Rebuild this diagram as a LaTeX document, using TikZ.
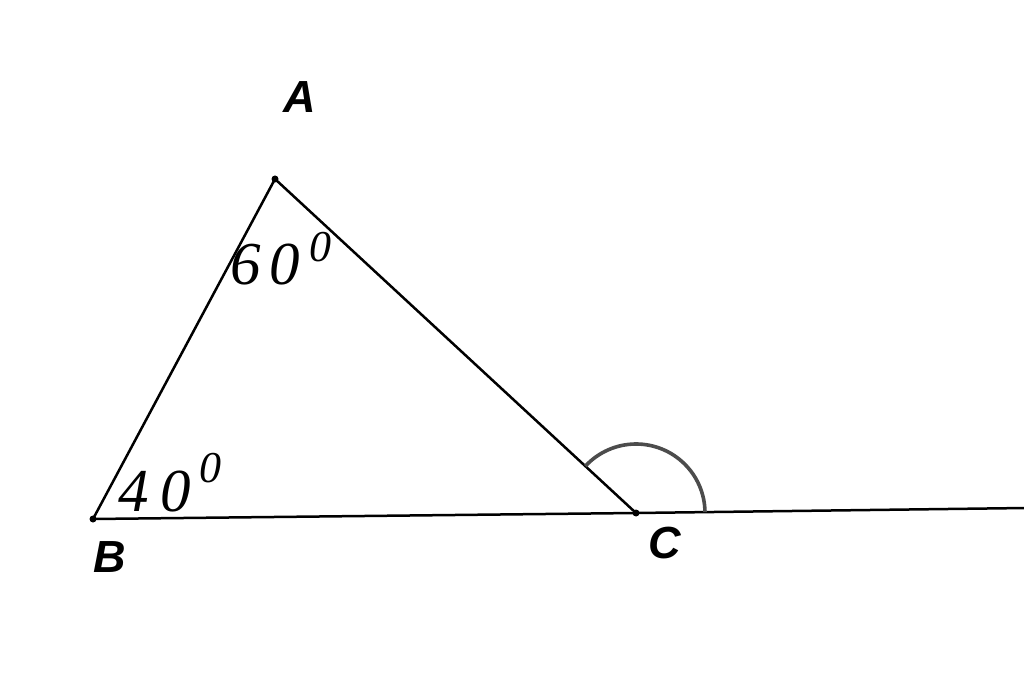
\documentclass[tikz,border=0pt]{standalone}
\usepackage{fontspec}
\setmainfont{Liberation Serif}
\setsansfont{Liberation Sans}
\begin{document}
\begin{tikzpicture}[x=1pt,y=1pt,
  seg/.style={line width=2.5pt,black},
  vdot/.style={circle,fill=black,inner sep=0pt,minimum size=7pt},
  vlabel/.style={anchor=base west,inner sep=0pt,font=\fontsize{45}{45}\selectfont\sffamily\bfseries\itshape},
  anglabel/.style={anchor=base west,inner sep=0pt,font=\fontsize{61}{61}\selectfont\itshape},
  anglearc/.style={line width=3.6pt,black!70}]
\useasboundingbox (0,0) rectangle (1024,672);
\coordinate (A) at (275,493);
\coordinate (B) at (93,153);
\coordinate (C) at (636,159);
\coordinate (E) at (1026,164);
\draw[seg] (B) -- (A) -- (C);
\draw[seg] (B) -- (C) -- (E);
\draw[anglearc] ([shift={(0.7:69)}]C) arc[start angle=0.7,end angle=137.2,radius=69];
\node[vdot] (dA) at (A) {};
\node[vdot] (dB) at (B) {};
\node[vdot] (dC) at (C) {};
\node[vlabel] (lA) at (283,559) {A};
\node[vlabel] (lB) at (93,100) {B};
\node[vlabel] (lC) at (648,114) {C};
\node[anglabel] (a60) at (230,387) {6\kern9pt0\kern9pt\raisebox{23pt}{\fontsize{44}{44}\selectfont 0}};
\node[anglabel] (a40) at (118,161) {4\kern12pt0\kern8pt\raisebox{29pt}{\fontsize{44}{44}\selectfont 0}};
\end{tikzpicture}
\end{document}
